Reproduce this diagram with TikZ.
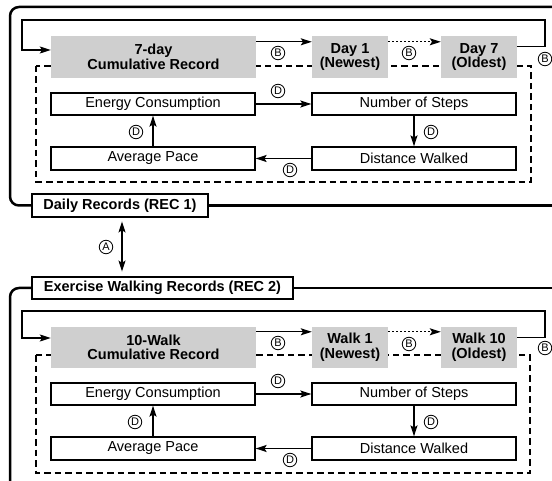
\documentclass[tikz,border=0pt]{standalone}
\usepackage{fontspec}
\setmainfont{Liberation Sans}
\usetikzlibrary{arrows.meta}
\begin{document}
\begin{tikzpicture}[x=1pt,y=-1pt,
 every node/.style={font=\fontsize{14.5}{14.5}\selectfont},
 gbox/.style={fill=black!19, inner sep=0pt, align=center, minimum height=42pt, font=\fontsize{14.5}{14.5}\selectfont\bfseries},
 wbox/.style={draw, line width=1.3pt, inner sep=0pt, minimum width=204pt, minimum height=22pt},
 lbox/.style={draw, line width=1.9pt, fill=white, inner sep=0pt, minimum height=23pt, font=\fontsize{14.5}{14.5}\selectfont\bfseries},
 conn/.style={line width=1.3pt},
 arr/.style={conn, -{Stealth[length=11pt,width=7pt,inset=2.2pt]}},
 dotarr/.style={arr, dash pattern=on 1.6pt off 2.4pt},
 frame/.style={line width=2.5pt, rounded corners=9pt},
 dashbox/.style={line width=2pt, dash pattern=on 6.5pt off 4pt},
 cl/.style={circle, draw, line width=0.8pt, inner sep=0pt, minimum size=13.5pt, font=\fontsize{11}{11}\selectfont},
]
\useasboundingbox (0,0) rectangle (552,481);

% ================= upper panel =================
\draw[dashbox] (36,66) rectangle (531,182);
\node[gbox, minimum width=205pt] (cum1) at (153.5,57) {7-day\\Cumulative Record};
\node[gbox, minimum width=76pt] (d1) at (350,57) {Day 1\\(Newest)};
\node[gbox, minimum width=76pt] (d7) at (479,57) {Day 7\\(Oldest)};

\node[wbox] (ec1) at (153,104) {Energy Consumption};
\node[wbox] (ns1) at (414,104) {Number of Steps};
\node[wbox, minimum height=23pt] (dw1) at (414,158.5) {Distance Walked};
\node[wbox, minimum height=23pt] (ap1) at (153,158.5) {Average Pace};

\draw[arr] ([yshift=-6pt]cum1.north east) -- ([yshift=-6pt]d1.north west);
\draw[dotarr] ([yshift=-6pt]d1.north east) -- ([yshift=-6pt]d7.north west);
\coordinate (fa1) at (22,50);
\draw[arr] ([yshift=-11pt]d7.north east) -| (545,20) -| (fa1) -- (fa1 -| cum1.west);

\draw[arr] (ec1.east) -- (ns1.west);
\draw[arr] (ns1.south) -- (dw1.north);
\draw[arr] (dw1.west) -- (ap1.east);
\draw[arr] (ap1.north) -- (ec1.south);

\node[cl] (b1) at (278,53) {B};
\node[cl] (b2) at (409,53) {B};
\node[cl] (b3) at (545,59) {B};
\node[cl] (dd1) at (278,91) {D};
\node[cl] (dd2) at (431,132) {D};
\node[cl] (dd3) at (290,170) {D};
\node[cl] (dd4) at (136,132) {D};

\node[lbox, minimum width=176pt] (rec1) at (120,205.5) {Daily Records (REC 1)};
\draw[frame] (rec1.west) -- (10,205.5) -- (10,7) -- (560,7);
\draw[line width=2.5pt] (rec1.east) -- (560,205.5);

% ================= link =================
\node[lbox, minimum width=261pt, minimum height=22pt] (rec2) at (162.5,288) {Exercise Walking Records (REC 2)};
\draw[conn, {Stealth[length=11pt,width=7pt,inset=2.2pt]}-{Stealth[length=11pt,width=7pt,inset=2.2pt]}, shorten <=3.5pt, shorten >=4.5pt]
  ([xshift=2pt]rec1.south) -- ([xshift=2pt]rec1.south |- rec2.north);
\node[cl] (a1) at (106,247) {A};

% ================= lower panel =================
\draw[frame] (rec2.west) -- (10,288) -- (10,490);
\draw[line width=2.5pt] (rec2.east) -- (560,288);

\draw[dashbox] (36,355) rectangle (530,473);
\node[gbox, minimum width=205pt, minimum height=41pt] (cum2) at (153.5,347.5) {10-Walk\\Cumulative Record};
\node[gbox, minimum width=76pt, minimum height=41pt] (w1) at (350,347.5) {Walk 1\\(Newest)};
\node[gbox, minimum width=76pt, minimum height=41pt] (w10) at (479,347.5) {Walk 10\\(Oldest)};

\node[wbox] (ec2) at (153,394) {Energy Consumption};
\node[wbox] (ns2) at (414,394) {Number of Steps};
\node[wbox, minimum height=23pt] (dw2) at (414,448.5) {Distance Walked};
\node[wbox, minimum height=23pt] (ap2) at (153,448.5) {Average Pace};

\draw[arr] ([yshift=-5pt]cum2.north east) -- ([yshift=-5pt]w1.north west);
\draw[dotarr] ([yshift=-5pt]w1.north east) -- ([yshift=-5pt]w10.north west);
\coordinate (fa2) at (22,338);
\draw[arr] ([yshift=-11pt]w10.north east) -| (545,311) -| (fa2) -- (fa2 -| cum2.west);

\draw[arr] (ec2.east) -- (ns2.west);
\draw[arr] (ns2.south) -- (dw2.north);
\draw[arr] (dw2.west) -- (ap2.east);
\draw[arr] (ap2.north) -- (ec2.south);

\node[cl] (b4) at (278,343) {B};
\node[cl] (b5) at (409,344) {B};
\node[cl] (b6) at (545,348) {B};
\node[cl] (dd5) at (278,381) {D};
\node[cl] (dd6) at (431,422) {D};
\node[cl] (dd7) at (290,460) {D};
\node[cl] (dd8) at (135,422) {D};
\end{tikzpicture}
\end{document}
